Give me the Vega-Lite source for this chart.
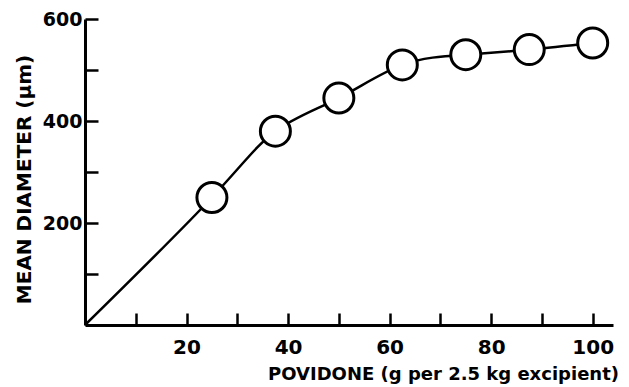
{
  "$schema": "https://vega.github.io/schema/vega-lite/v6.json",
  "width": 528,
  "height": 306,
  "autosize": {"type": "none"},
  "padding": {"left": 85, "top": 19, "right": 16, "bottom": 62},
  "background": "white",
  "config": {
    "view": {"stroke": null},
    "axis": {
      "grid": false,
      "domainColor": "black",
      "domainWidth": 3,
      "tickColor": "black",
      "tickWidth": 2.5,
      "labelFont": "DejaVu Sans",
      "labelFontWeight": "bold",
      "labelColor": "black",
      "titleFont": "DejaVu Sans",
      "titleFontWeight": "bold",
      "titleColor": "black"
    }
  },
  "datasets": {
    "curve": [
      {"povidone": 0, "diameter": 0},
      {"povidone": 25, "diameter": 250},
      {"povidone": 37.5, "diameter": 380},
      {"povidone": 50, "diameter": 445},
      {"povidone": 62.5, "diameter": 510},
      {"povidone": 75, "diameter": 530},
      {"povidone": 87.5, "diameter": 540},
      {"povidone": 100, "diameter": 553}
    ],
    "points": [
      {"povidone": 25, "diameter": 250},
      {"povidone": 37.5, "diameter": 380},
      {"povidone": 50, "diameter": 445},
      {"povidone": 62.5, "diameter": 510},
      {"povidone": 75, "diameter": 530},
      {"povidone": 87.5, "diameter": 540},
      {"povidone": 100, "diameter": 553}
    ]
  },
  "layer": [
    {
      "data": {"name": "curve"},
      "mark": {"type": "line", "color": "black", "strokeWidth": 2.5, "interpolate": "natural"},
      "encoding": {
        "x": {
          "field": "povidone", "type": "quantitative",
          "scale": {"domain": [0, 104], "nice": false, "zero": true},
          "axis": {
            "values": [10, 20, 30, 40, 50, 60, 70, 80, 90, 100],
            "labelExpr": "datum.value % 20 == 0 ? datum.label : ''",
            "tickSize": -12,
            "labelPadding": 24,
            "labelFontSize": 20,
            "title": "POVIDONE (g per 2.5 kg excipient)",
            "titleFontSize": 18,
            "titleX": 358,
            "titleY": 49,
            "titleAnchor": null,
            "titleAlign": "center",
            "titleBaseline": "middle"
          }
        },
        "y": {
          "field": "diameter", "type": "quantitative",
          "scale": {"domain": [0, 600], "nice": false},
          "axis": {
            "values": [100, 200, 300, 400, 500, 600],
            "labelExpr": "datum.value % 200 == 0 ? datum.label : ''",
            "tickSize": -13,
            "labelPadding": 16,
            "labelFontSize": 19,
            "title": "MEAN DIAMETER (µm)",
            "titleFontSize": 20,
            "titleAngle": -90,
            "titleX": -61,
            "titleY": 160,
            "titleAlign": "center",
            "titleBaseline": "middle"
          }
        }
      }
    },
    {
      "data": {"name": "points"},
      "mark": {"type": "point", "shape": "circle", "filled": false, "fill": "white", "fillOpacity": 1, "stroke": "black", "strokeWidth": 3, "size": 900, "opacity": 1},
      "encoding": {
        "x": {"field": "povidone", "type": "quantitative"},
        "y": {"field": "diameter", "type": "quantitative"}
      }
    }
  ]
}
